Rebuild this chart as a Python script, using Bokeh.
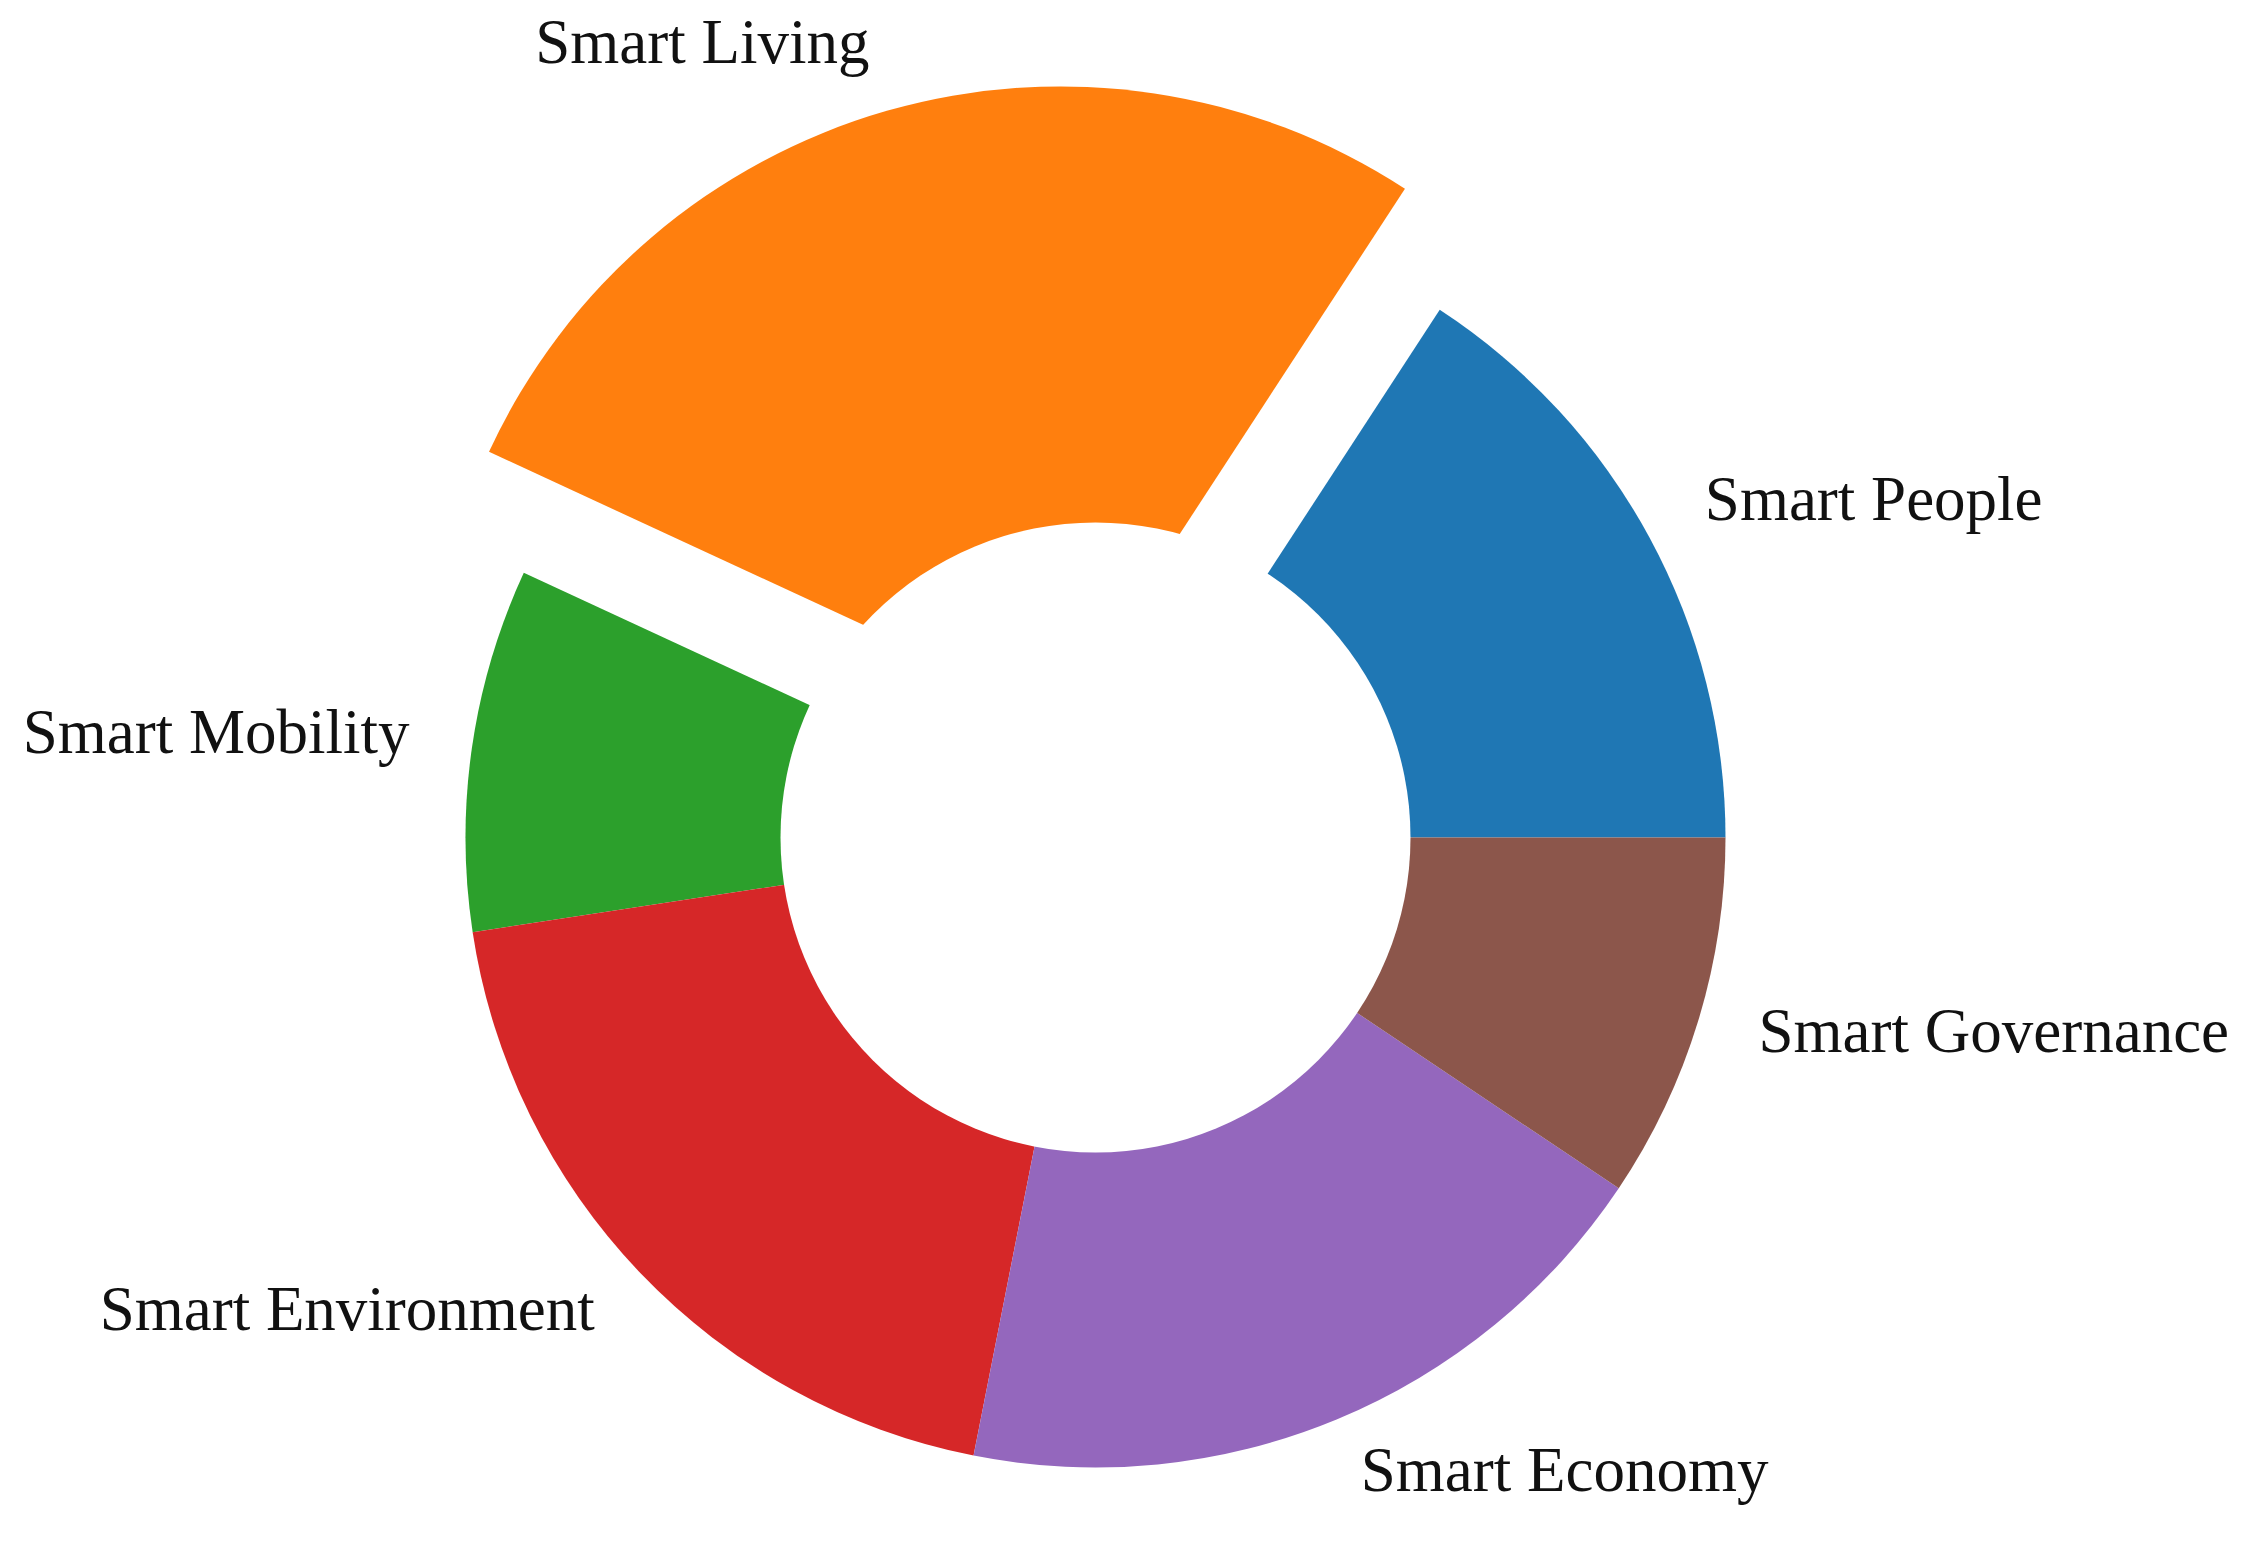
import math
from bokeh.plotting import figure
from bokeh.models import Range1d, ColumnDataSource
from bokeh.core.properties import value
from bokeh.embed import file_html
from bokeh.resources import INLINE

categories = ["Smart People", "Smart Living", "Smart Mobility",
              "Smart Environment", "Smart Economy", "Smart Governance"]
shares = [15.8, 27.3, 9.3, 19.5, 18.7, 9.4]
explode = [0, 0.2, 0, 0, 0, 0]
colors = ["#1f77b4", "#ff7f0e", "#2ca02c", "#d62728", "#9467bd", "#8c564b"]

W, H = 2229, 1531
PX = 630.0          # pixels per unit radius
CX, CY = 1095, 837  # centre in frame pixels

p = figure(width=W, height=H, output_backend="svg", toolbar_location=None,
           x_range=Range1d(-CX / PX, (W - CX) / PX),
           y_range=Range1d(-(H - CY) / PX, CY / PX),
           min_border=0)
p.axis.visible = False
p.grid.visible = False
p.outline_line_color = None
p.background_fill_color = "white"
p.border_fill_color = "white"

total = float(sum(shares))
starts, ends, xs, ys, lx, ly, aligns = [], [], [], [], [], [], []
a = 0.0
for v, e in zip(shares, explode):
    s = a
    t = a + 2 * math.pi * v / total
    m = (s + t) / 2
    ox, oy = e * math.cos(m), e * math.sin(m)
    starts.append(s); ends.append(t)
    xs.append(ox); ys.append(oy)
    lx.append(ox + 1.1 * math.cos(m)); ly.append(oy + 1.1 * math.sin(m))
    aligns.append("left" if math.cos(m) > 0 else "right")
    a = t

src = ColumnDataSource(dict(x=xs, y=ys, start=starts, end=ends, color=colors,
                            lx=lx, ly=ly, label=categories, align=aligns))
p.wedge(x="x", y="y", radius=1.0, start_angle="start", end_angle="end",
        fill_color="color", line_color=None, source=src)
p.scatter(x=[0], y=[0], size=2 * 0.5 * PX, fill_color="white", line_color=None)
p.text(x="lx", y="ly", text="label", source=src, text_align="align",
       text_baseline="middle", text_font=value("Liberation Serif"),
       text_font_size="63px", text_color="#111111", y_offset=-8)

open("out.html", "w").write(file_html(p, INLINE))
